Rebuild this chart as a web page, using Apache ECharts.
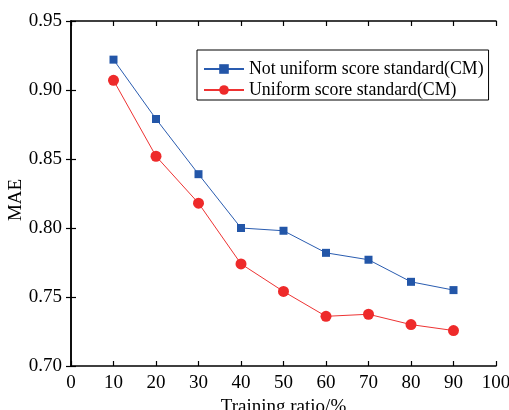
<!DOCTYPE html>
<html>
<head>
<meta charset="utf-8">
<script src="https://cdn.jsdelivr.net/npm/echarts@6/dist/echarts.min.js"></script>
<style>html,body{margin:0;padding:0;background:#fff}#c{width:509px;height:410px}</style>
</head>
<body>
<div id="c"></div>
<script>
const ratios = [10, 20, 30, 40, 50, 60, 70, 80, 90];
const notUniform = [0.922, 0.879, 0.839, 0.800, 0.798, 0.782, 0.777, 0.761, 0.755];
const uniform = [0.907, 0.852, 0.818, 0.774, 0.754, 0.736, 0.7375, 0.730, 0.7257];
const seriesNames = ['Not uniform score standard(CM)', 'Uniform score standard(CM)'];
const xTitle = 'Training ratio/%';
const yTitle = 'MAE';

const font = '"Liberation Serif", "Times New Roman", serif';
const chart = echarts.init(document.getElementById('c'), null, {renderer: 'canvas'});
const axisLine = {show: true, lineStyle: {color: '#000', width: 1.5}};
const tick = {show: true, inside: true, length: 5, lineStyle: {color: '#000', width: 1.2}};
chart.setOption({
  backgroundColor: '#fff',
  animation: false,
  grid: {left: 71, right: 13, top: 21, bottom: 44, containLabel: false, outerBoundsMode: 'none'},
  legend: {
    orient: 'vertical', left: 197, top: 50,
    borderColor: '#000', borderWidth: 1, borderRadius: 0,
    padding: [10, 5, 1, 6], itemGap: 3,
    itemWidth: 40, itemHeight: 12,
    textStyle: {fontFamily: font, fontSize: 17.8, color: '#000'},
    data: seriesNames
  },
  xAxis: [{
    type: 'value', min: 0, max: 100, interval: 10, position: 'bottom',
    axisLine, axisTick: tick, splitLine: {show: false},
    axisLabel: {fontFamily: font, fontSize: 19, color: '#000', margin: 8},
    name: xTitle, nameLocation: 'middle', nameGap: 32,
    nameTextStyle: {fontFamily: font, fontSize: 19, color: '#000'}
  }, {
    type: 'value', min: 0, max: 100, interval: 10, position: 'top',
    axisLine, axisTick: tick, splitLine: {show: false}, axisLabel: {show: false}
  }],
  yAxis: [{
    type: 'value', min: 0.70, max: 0.95, interval: 0.05, position: 'left',
    axisLine, axisTick: tick, splitLine: {show: false},
    axisLabel: {fontFamily: font, fontSize: 19, color: '#000', margin: 9, formatter: v => v.toFixed(2)}
  }, {
    type: 'value', min: 0.70, max: 0.95, interval: 0.05, position: 'right',
    axisLine, axisTick: tick, splitLine: {show: false}, axisLabel: {show: false}
  }],
  graphic: [{
    type: 'text', x: 16.5, y: 200, rotation: Math.PI / 2,
    style: {text: yTitle, fontFamily: font, fontSize: 19, fill: '#000', align: 'center', verticalAlign: 'middle'}
  }],
  series: [{
    name: seriesNames[0], type: 'line',
    data: ratios.map((x, i) => [x, notUniform[i]]),
    symbol: 'rect', symbolSize: 8,
    lineStyle: {color: '#2a5cb0', width: 1},
    itemStyle: {color: '#2356a8'}
  }, {
    name: seriesNames[1], type: 'line',
    data: ratios.map((x, i) => [x, uniform[i]]),
    symbol: 'circle', symbolSize: 11,
    lineStyle: {color: '#ee3333', width: 1},
    itemStyle: {color: '#ee2a2a'}
  }]
});
</script>
</body>
</html>
